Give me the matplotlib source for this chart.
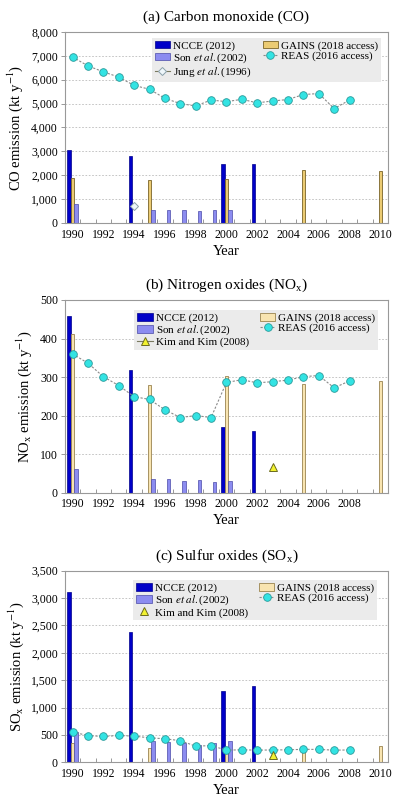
import matplotlib
matplotlib.use("Agg")
import matplotlib.pyplot as plt
from matplotlib.ticker import FuncFormatter, FixedLocator

plt.rcParams['font.family'] = ['Liberation Serif', 'DejaVu Serif']
plt.rcParams['mathtext.fontset'] = 'stix'

# category axis: one slot per year
years = list(range(1990, 2011))
ncce_years = [1990, 1994, 2000, 2002]
gains_years = [1990, 1995, 2000, 2005, 2010]
son_years = [1990, 1995, 1996, 1997, 1998, 1999, 2000]
reas_years = list(range(1990, 2009))

# (a) CO, kt/yr
co_ncce = [3050, 2800, 2450, 2490]
co_gains = [1890, 1780, 1830, 2210, 2160]
co_son = [780, 530, 530, 530, 520, 530, 530]
co_reas = [6950, 6580, 6330, 6110, 5760, 5600, 5220, 5000, 4900, 5150,
           5080, 5180, 5030, 5110, 5170, 5380, 5420, 4790, 5150]
jung_years = [1994]
co_jung = [710]

# (b) NOx
nox_ncce = [458, 318, 170, 159]
nox_gains = [412, 279, 302, 281, 289]
nox_son = [61, 35, 35, 29, 32, 27, 31]
nox_reas = [360, 336, 301, 278, 249, 242, 215, 195, 200, 195,
            286, 293, 285, 288, 292, 301, 304, 272, 290]
kim_years = [2003]
nox_kim = [67]

# (c) SOx
sox_ncce = [3120, 2380, 1300, 1390]
sox_gains = [347, 261, 175, 206, 303]
sox_son = [545, 395, 370, 360, 320, 355, 385]
sox_reas = [555, 487, 472, 490, 478, 447, 430, 395, 295, 305,
            222, 228, 222, 225, 228, 237, 235, 222, 225]
sox_kim = [140]

NCCE_C = '#0000c8'
SON_C = '#8c8cf0'
REAS_C = '#33e3e3'
KIM_C = '#f2f230'


def pos(yrs, shift=0.0):
    return [y - years[0] + shift for y in yrs]


def draw_panel(ax, title, ylabel, ymax, ystep, ncce, gains, son, reas,
               gains_face, gains_edge, extra, tick_years, leg_anchor):
    w = 0.22
    ax.bar(pos(ncce_years, -0.23), ncce, w, color=NCCE_C, edgecolor='#00008b',
           linewidth=0.5, label='NCCE (2012)', zorder=2)
    ax.bar(pos(gains_years), gains, w, color=gains_face, edgecolor=gains_edge,
           linewidth=0.6, label='GAINS (2018 access)', zorder=2)
    ax.bar(pos(son_years, 0.23), son, w, color=SON_C, edgecolor='#4a4aa8',
           linewidth=0.5, label=r'Son $\it{et\ al.}$(2002)', zorder=2)
    ax.plot(pos(reas_years), reas, color='#8a8a8a', linestyle=(0, (2, 1.5)),
            linewidth=0.8, marker='o', markersize=5.5, markerfacecolor=REAS_C,
            markeredgecolor='#2a9a9a', markeredgewidth=0.6,
            label='REAS (2016 access)', zorder=3)
    ex_years, ex_vals, ex_label, ex_marker, ex_size, ex_face, ex_edge, ex_line = extra
    ax.plot(pos(ex_years), ex_vals, linestyle='-' if ex_line else 'none',
            color='#7a7a60', linewidth=0.8, marker=ex_marker, markersize=ex_size,
            markerfacecolor=ex_face, markeredgecolor=ex_edge,
            markeredgewidth=0.7, label=ex_label, zorder=4)

    ax.set_xlim(-0.5, len(years) - 0.5)
    ax.set_ylim(0, ymax)
    ax.set_yticks(range(0, ymax + 1, ystep))
    ax.yaxis.set_major_formatter(FuncFormatter(lambda v, p: f'{int(v):,}'))
    ax.set_xticks(pos(tick_years))
    ax.set_xticklabels([str(y) for y in tick_years])
    ax.xaxis.set_minor_locator(FixedLocator([i + 0.5 for i in range(len(years) - 1)]))
    ax.tick_params(axis='x', which='major', length=0, pad=4, labelsize=8.5)
    ax.tick_params(axis='x', which='minor', direction='in', length=3,
                   color='#888888', width=0.6)
    ax.tick_params(axis='y', direction='out', length=3, color='#888888',
                   width=0.6, labelsize=8.5, pad=2)
    ax.grid(axis='y', color='#bbbbbb', linestyle=(0, (2, 2)), linewidth=0.6, zorder=0)
    ax.set_axisbelow(True)
    for s in ax.spines.values():
        s.set_color('#999999')
        s.set_linewidth(0.8)

    ax.set_title(title, fontsize=11, pad=8)
    ax.set_xlabel('Year', fontsize=10.5, labelpad=3)
    ax.set_ylabel(ylabel, fontsize=10.5, labelpad=4)

    h, l = ax.get_legend_handles_labels()
    # column 1: NCCE, Son, extra; column 2: GAINS, REAS
    order = [l.index('NCCE (2012)'), l.index(r'Son $\it{et\ al.}$(2002)'),
             l.index(ex_label), l.index('GAINS (2018 access)'),
             l.index('REAS (2016 access)')]
    leg = ax.legend([h[i] for i in order], [l[i] for i in order], ncol=2,
                    loc='upper right', bbox_to_anchor=leg_anchor,
                    fontsize=8, frameon=True, fancybox=False,
                    handlelength=1.4, handletextpad=0.25, columnspacing=1.0,
                    labelspacing=0.05, borderpad=0.25, borderaxespad=0.0)
    leg.get_frame().set_facecolor('#ebebeb')
    leg.get_frame().set_edgecolor('none')
    leg.get_frame().set_alpha(1)


fig = plt.figure(figsize=(3.98, 8.07), dpi=100)
axa = fig.add_axes([0.163, 0.7237, 0.812, 0.2367])
axb = fig.add_axes([0.163, 0.3895, 0.812, 0.2388])
axc = fig.add_axes([0.163, 0.0554, 0.812, 0.2374])

even_years = list(range(1990, 2011, 2))

draw_panel(axa, '(a) Carbon monoxide (CO)', r'CO emission (kt y$^{-1}$)',
           8000, 1000, co_ncce, co_gains, co_son, co_reas,
           '#ebcb73', '#7a6428',
           (jung_years, co_jung, r'Jung $\it{et\ al.}$(1996)', 'D', 4.5,
            '#eef6fa', '#8aa0aa', True),
           even_years, (0.978, 0.969))

draw_panel(axb, r'(b) Nitrogen oxides (NO$_\mathregular{x}$)',
           r'NO$_\mathregular{x}$ emission (kt y$^{-1}$)',
           500, 100, nox_ncce, nox_gains, nox_son, nox_reas,
           '#f8e4b0', '#9a8450',
           (kim_years, nox_kim, 'Kim and Kim (2008)', '^', 6,
            KIM_C, '#6a6a20', True),
           list(range(1990, 2009, 2)), (0.969, 0.948))

draw_panel(axc, r'(c) Sulfur oxides (SO$_\mathregular{x}$)',
           r'SO$_\mathregular{x}$ emission (kt y$^{-1}$)',
           3500, 500, sox_ncce, sox_gains, sox_son, sox_reas,
           '#f8e4b0', '#9a8450',
           (kim_years, sox_kim, 'Kim and Kim (2008)', '^', 6,
            KIM_C, '#6a6a20', False),
           even_years, (0.966, 0.951))

fig.savefig('out.png', dpi=100)
